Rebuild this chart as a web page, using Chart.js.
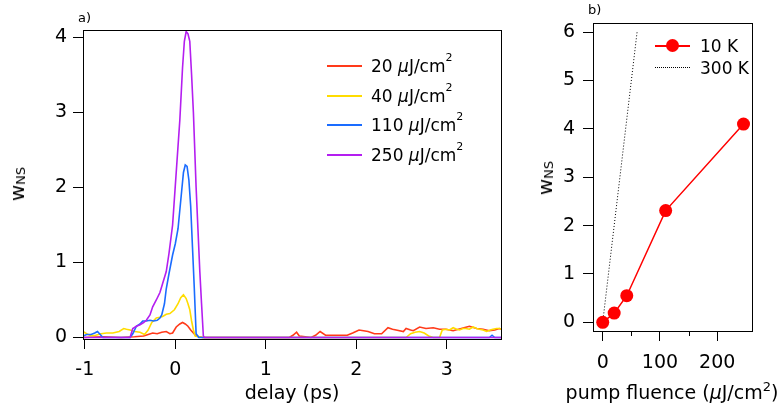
<!DOCTYPE html>
<html>
<head>
<meta charset="utf-8">
<title>w_NS vs delay and pump fluence</title>
<script src="https://cdn.jsdelivr.net/npm/chart.js@4.4.1/dist/chart.umd.min.js"></script>
<style>
    body { margin: 0; background: #fff; font-family: "DejaVu Sans", sans-serif; color: #000; }
    #figure { position: relative; width: 784px; height: 407px; overflow: hidden; }
    .panel { position: absolute; top: 0; height: 407px; }
    #panelA { left: 0; width: 520px; }
    #panelB { left: 520px; width: 264px; }
    .label { position: absolute; white-space: nowrap; line-height: 1; }
    .center { transform: translate(-50%, -50%); }
    .ytitle { transform: translate(-50%, -50%) rotate(-90deg); font-size: 20px; }
    .ytitle sub { font-size: 13px; vertical-align: -1px; line-height: 0; }
    .axis-title { font-size: 19px; }
    .axis-title sup { font-size: 13px; vertical-align: 8px; line-height: 0; }
    .tag { font-size: 13px; }
    .legend-row { position: absolute; height: 20px; width: 200px; font-size: 17px; }
    .legend-row .swatch { position: absolute; left: 0; top: 9px; width: 35px; height: 2px; }
    .legend-row .dotted { height: 0; border-top: 1px dotted #000; }
    .legend-row .text { position: absolute; top: 0; line-height: 20px; white-space: nowrap; }
    .legend-row sup { font-size: 11px; vertical-align: 11px; line-height: 0; }
    .legend-row .dot { position: absolute; width: 13px; height: 13px; border-radius: 50%; background: #ff0000; top: 3px; left: 11px; }
</style>
</head>
<body>
<div id="figure">
    <div class="panel" id="panelA"><canvas id="delayChart"></canvas></div>
    <div class="panel" id="panelB"><canvas id="fluenceChart"></canvas></div>

    <div class="label tag" style="left:78px; top:11px;">a)</div>
    <div class="label tag" style="left:588px; top:3px;">b)</div>

    <div class="label ytitle" style="left:17px; top:184px;">w<sub>NS</sub></div>
    <div class="label ytitle" style="left:545px; top:178px;">w<sub>NS</sub></div>

    <div class="label axis-title center" style="left:292px; top:392px;">delay (ps)</div>
    <div class="label axis-title center" style="left:672px; top:392px;">pump fluence (<i>μ</i>J/cm<sup>2</sup>)</div>

    <div id="legendA"></div>

    <div class="legend-row" style="left:655px; top:36px;">
        <div class="swatch" style="background:#ff0000;"></div>
        <div class="dot"></div>
        <span class="text" style="left:45px;">10 K</span>
    </div>
    <div class="legend-row" style="left:655px; top:58px;">
        <div class="swatch dotted"></div>
        <span class="text" style="left:45px;">300 K</span>
    </div>
</div>

<script>
// panel a) w_NS vs delay, one trace per pump fluence
const fluenceLabels = ['20', '40', '110', '250'];
const traceColors = ['#ff3a1a', '#ffdc00', '#1a6cff', '#b41ef0'];

const delay20 = [-1.02, -0.8, -0.6, -0.45, -0.35, -0.3, -0.25, -0.2, -0.15, -0.1,
    -0.06, -0.03, 0.01, 0.05, 0.08, 0.11, 0.14, 0.17, 0.2, 0.23,
    0.3, 1.26, 1.3, 1.34, 1.37, 1.5, 1.55, 1.6, 1.66, 1.75,
    1.82, 1.9, 1.96, 2.03, 2.08, 2.13, 2.2, 2.28, 2.35, 2.4,
    2.44, 2.52, 2.55, 2.6, 2.63, 2.7, 2.77, 2.85, 2.92, 2.99,
    3.07, 3.16, 3.25, 3.33, 3.4, 3.47, 3.53, 3.58, 3.61];
const wns20 = [0, 0.01, 0, 0.01, 0.02, 0.04, 0.06, 0.05, 0.07, 0.08,
    0.05, 0.06, 0.14, 0.18, 0.2, 0.18, 0.15, 0.1, 0.06, 0.02,
    0, 0, 0.03, 0.07, 0.02, 0, 0.03, 0.08, 0.03, 0.03,
    0.03, 0.03, 0.06, 0.1, 0.09, 0.08, 0.05, 0.05, 0.13, 0.11,
    0.1, 0.08, 0.12, 0.1, 0.09, 0.14, 0.12, 0.13, 0.11, 0.11,
    0.09, 0.12, 0.15, 0.12, 0.11, 0.09, 0.1, 0.12, 0.11];

const delay40 = [-1.02, -0.98, -0.93, -0.88, -0.82, -0.76, -0.69, -0.62, -0.57, -0.54,
    -0.5, -0.45, -0.39, -0.34, -0.3, -0.26, -0.21, -0.17, -0.14, -0.1,
    -0.06, -0.01, 0.03, 0.06, 0.09, 0.12, 0.14, 0.16, 0.18, 0.2,
    0.22, 0.3, 2.55, 2.6, 2.65, 2.7, 2.75, 2.8, 2.85, 2.92,
    2.95, 2.99, 3.03, 3.07, 3.11, 3.14, 3.18, 3.21, 3.25, 3.29,
    3.33, 3.36, 3.4, 3.44, 3.48, 3.51, 3.55, 3.58, 3.61];
const wns40 = [0.08, 0.05, 0.02, 0.03, 0.05, 0.06, 0.06, 0.08, 0.12, 0.11,
    0.1, 0.08, 0.07, 0.04, 0.1, 0.2, 0.26, 0.27, 0.28, 0.31,
    0.32, 0.37, 0.45, 0.53, 0.57, 0.52, 0.45, 0.37, 0.22, 0.1,
    0.02, 0, 0, 0.05, 0.07, 0.08, 0.06, 0.02, 0, 0,
    0.1, 0.11, 0.1, 0.13, 0.11, 0.1, 0.12, 0.12, 0.11, 0.14,
    0.12, 0.11, 0.1, 0.08, 0.1, 0.11, 0.12, 0.12, 0.11];

const delay110 = [-1.02, -0.98, -0.93, -0.89, -0.86, -0.83, -0.8,
    -0.5, -0.47, -0.43, -0.39, -0.36, -0.32, -0.28, -0.24, -0.2, -0.17,
    -0.15, -0.12, -0.1, -0.07, -0.03, 0.0, 0.03, 0.05, 0.07, 0.09,
    0.11, 0.13, 0.15, 0.17, 0.19, 0.21, 0.23, 0.26,
    3.47, 3.5, 3.53, 3.61];
const wns110 = [0.02, 0.04, 0.04, 0.06, 0.08, 0.04, 0,
    0, 0.05, 0.15, 0.18, 0.22, 0.22, 0.23, 0.22, 0.23, 0.26,
    0.3, 0.45, 0.65, 0.85, 1.1, 1.25, 1.45, 1.7, 1.95, 2.2,
    2.3, 2.28, 2.1, 1.75, 1.2, 0.65, 0.05, 0,
    0, 0.03, 0, 0];

const delay250 = [-1.02, -0.5, -0.47, -0.43, -0.39, -0.35, -0.32, -0.28, -0.25, -0.21,
    -0.17, -0.14, -0.1, -0.07, -0.03, 0.01, 0.05, 0.08, 0.1, 0.12,
    0.14, 0.16, 0.18, 0.2, 0.23, 0.25, 0.27, 0.29, 0.31, 0.32,
    3.61];
const wns250 = [0, 0, 0.12, 0.15, 0.17, 0.2, 0.23, 0.3, 0.41, 0.5,
    0.6, 0.72, 0.88, 1.12, 1.5, 2.2, 2.9, 3.6, 3.95, 4.08,
    4.05, 3.95, 3.5, 3.0, 2.0, 1.45, 0.9, 0.45, 0.02, 0,
    0];

// panel b) peak w_NS vs pump fluence
const fluence10K = [0, 20, 42, 110, 246];
const wns10K = [0, 0.19, 0.55, 2.31, 4.1];
const fluence300K = [0, 60];
const wns300K = [0, 6];
const fluenceMinorTicks = [50, 150];

const tickFont = { family: '"DejaVu Sans", sans-serif', size: 19 };

document.addEventListener('DOMContentLoaded', function() {
    buildLegendA();
    initializeDelayChart();
    initializeFluenceChart();
});

function toPoints(xs, ys) {
    return xs.map((x, i) => ({ x: x, y: ys[i] }));
}

// Igor-style closed frame around the plot area
const framePlugin = {
    id: 'frame',
    afterDatasetsDraw(chart) {
        const a = chart.chartArea;
        const ctx = chart.ctx;
        ctx.save();
        ctx.strokeStyle = '#000';
        ctx.lineWidth = 1;
        ctx.strokeRect(a.left + 0.5, a.top + 0.5, a.right - a.left - 1, a.bottom - a.top);
        ctx.restore();
    }
};

function axisOptions(min, max, step, padding, size, isX) {
    return {
        type: 'linear',
        min: min,
        max: max,
        ticks: { stepSize: step, includeBounds: false, color: '#000', font: tickFont, padding: padding, maxRotation: 0 },
        grid: { drawOnChartArea: false, tickLength: 10, color: '#000', lineWidth: 1 },
        border: { display: false },
        afterFit: isX ? (s => { s.height = size; }) : (s => { s.width = size; })
    };
}

function buildLegendA() {
    const holder = document.getElementById('legendA');
    const rowY = [56, 86, 115, 145];
    fluenceLabels.forEach((label, i) => {
        const row = document.createElement('div');
        row.className = 'legend-row';
        row.style.left = '327px';
        row.style.top = rowY[i] + 'px';
        row.innerHTML = `
            <div class="swatch" style="background:${traceColors[i]};"></div>
            <span class="text" style="left:44px;">${label} <i>μ</i>J/cm<sup>2</sup></span>
        `;
        holder.appendChild(row);
    });
}

function initializeDelayChart() {
    const ctx = document.getElementById('delayChart');
    if (!ctx) return;

    const series = [[delay20, wns20], [delay40, wns40], [delay110, wns110], [delay250, wns250]];

    new Chart(ctx, {
        type: 'scatter',
        data: {
            datasets: series.map((s, i) => ({
                label: fluenceLabels[i] + ' μJ/cm2',
                data: toPoints(s[0], s[1]),
                showLine: true,
                borderColor: traceColors[i],
                borderWidth: 1.6,
                pointRadius: 0,
                tension: 0,
                // 250 uJ trace drawn last so it sits on the zero baseline
                order: 3 - i
            }))
        },
        options: {
            responsive: true,
            maintainAspectRatio: false,
            animation: false,
            layout: { padding: { top: 30, right: 18, left: 0, bottom: 0 } },
            plugins: { legend: { display: false }, tooltip: { enabled: false } },
            scales: {
                x: axisOptions(-1.02, 3.61, 1, 10, 68, true),
                y: axisOptions(-0.02, 4.1, 1, 6, 83, false)
            }
        },
        plugins: [framePlugin]
    });
}

function initializeFluenceChart() {
    const ctx = document.getElementById('fluenceChart');
    if (!ctx) return;

    const minorTicks = {
        id: 'minorTicks',
        afterDraw(chart) {
            const xScale = chart.scales.x;
            const c = chart.ctx;
            c.save();
            c.strokeStyle = '#000';
            c.lineWidth = 1;
            fluenceMinorTicks.forEach(v => {
                const px = Math.round(xScale.getPixelForValue(v)) + 0.5;
                c.beginPath();
                c.moveTo(px, chart.chartArea.bottom);
                c.lineTo(px, chart.chartArea.bottom + 5);
                c.stroke();
            });
            c.restore();
        }
    };

    new Chart(ctx, {
        type: 'scatter',
        data: {
            datasets: [{
                label: '10 K',
                data: toPoints(fluence10K, wns10K),
                showLine: true,
                borderColor: '#ff0000',
                backgroundColor: '#ff0000',
                borderWidth: 1.5,
                pointRadius: 6.5,
                pointBorderWidth: 0
            }, {
                label: '300 K',
                data: toPoints(fluence300K, wns300K),
                showLine: true,
                borderColor: '#000',
                borderWidth: 1,
                borderDash: [1, 2],
                pointRadius: 0
            }]
        },
        options: {
            responsive: true,
            maintainAspectRatio: false,
            animation: false,
            layout: { padding: { top: 23, right: 31, left: 0, bottom: 0 } },
            plugins: { legend: { display: false }, tooltip: { enabled: false } },
            scales: {
                x: axisOptions(-17, 262.6, 100, 11, 76, true),
                y: axisOptions(-0.18, 6.19, 1, 8, 73, false)
            }
        },
        plugins: [framePlugin, minorTicks]
    });
}
</script>
</body>
</html>
